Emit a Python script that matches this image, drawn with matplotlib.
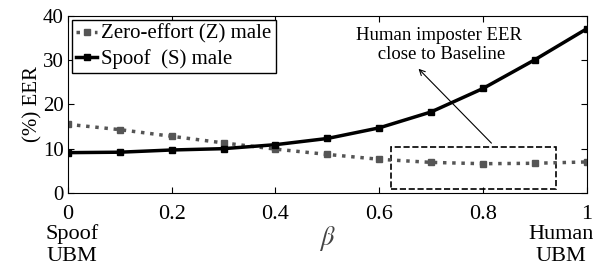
import matplotlib.pyplot as plt

beta = [0, 0.1, 0.2, 0.3, 0.4, 0.5, 0.6, 0.7, 0.8, 0.9, 1.0]
zero_effort = [15.5, 14.3, 12.8, 11.3, 9.9, 8.7, 7.6, 6.9, 6.6, 6.7, 7.0]
spoof = [9.1, 9.2, 9.7, 10.0, 10.9, 12.3, 14.7, 18.3, 23.6, 30.1, 37.1]
xticks = [0, 0.2, 0.4, 0.6, 0.8, 1]
yticks = [0, 10, 20, 30, 40]

plt.rcParams['font.family'] = ['Liberation Serif', 'DejaVu Serif']
plt.rcParams['mathtext.fontset'] = 'stix'

fig = plt.figure(figsize=(6, 2.65), dpi=100)
ax = fig.add_axes([0.113, 0.272, 0.865, 0.668])

ax.plot(beta, zero_effort, color='#555555', linestyle=':', linewidth=2.5,
        marker='s', markersize=5, label='Zero-effort (Z) male')
ax.plot(beta, spoof, color='black', linestyle='-', linewidth=2.5,
        marker='s', markersize=5, label='Spoof  (S) male')

ax.set_xlim(0, 1)
ax.set_ylim(0, 40)
ax.set_xticks(xticks)
ax.set_xticklabels(['0', '0.2', '0.4', '0.6', '0.8', '1'])
ax.set_yticks(yticks)
ax.tick_params(direction='in', top=True, right=True, length=4)
ax.tick_params(axis='x', labelsize=16, pad=9)
ax.tick_params(axis='y', labelsize=15, pad=3)
ax.set_ylabel('(%) EER', fontsize=15, labelpad=0)
ax.set_xlabel(r'$\beta$', fontsize=19, color='#444444', labelpad=0)

# dashed box and annotation
ax.add_patch(plt.Rectangle((0.622, 0.9), 0.318, 9.5, fill=False,
                           linestyle='--', linewidth=1.2, edgecolor='black'))
ax.annotate('', xy=(0.672, 28.5), xytext=(0.82, 10.8),
            arrowprops=dict(arrowstyle='->', color='black', lw=0.8))
ax.text(0.715, 33.4, 'Human imposter EER\n close to Baseline', fontsize=13.5,
        ha='center', va='center', linespacing=1.1)

ax.legend(loc='upper left', fontsize=15, frameon=True, fancybox=False,
          edgecolor='black', framealpha=1, borderpad=0.2, handlelength=1.0,
          handletextpad=0.2, labelspacing=0.25, borderaxespad=0.2)

fig.text(0.12, 0.075, 'Spoof\nUBM', fontsize=16, ha='center', va='center', linespacing=1.2)
fig.text(0.935, 0.075, 'Human\nUBM', fontsize=16, ha='center', va='center', linespacing=1.2)

fig.savefig('out.png', dpi=100)
